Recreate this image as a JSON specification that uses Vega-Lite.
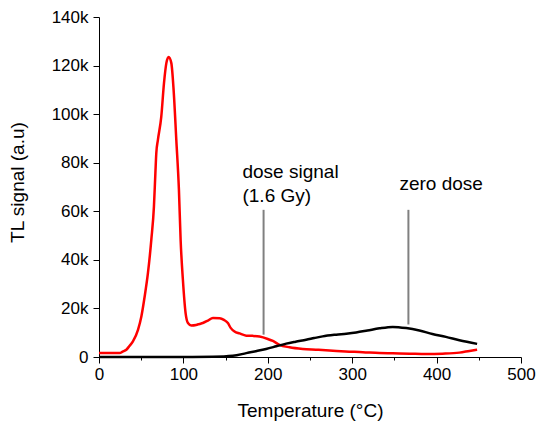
{
  "$schema": "https://vega.github.io/schema/vega-lite/v6.json",
  "autosize": "none",
  "width": 422,
  "height": 340,
  "padding": {"left": 99, "top": 17, "right": 17, "bottom": 69},
  "background": "white",
  "config": {
    "view": {"stroke": null},
    "font": "Liberation Sans",
    "axis": {
      "labelFont": "Liberation Sans",
      "titleFont": "Liberation Sans",
      "labelFontSize": 17,
      "titleFontSize": 19,
      "titleFontWeight": "normal",
      "labelColor": "black",
      "titleColor": "black",
      "domainColor": "black",
      "tickColor": "black",
      "grid": false,
      "labelOverlap": false,
      "labelFlush": false
    }
  },
  "datasets": {
    "curves": [
      {"series": "dose", "t": 0, "s": 1600},
      {"series": "dose", "t": 10, "s": 1600},
      {"series": "dose", "t": 20, "s": 1600},
      {"series": "dose", "t": 24.5, "s": 1600},
      {"series": "dose", "t": 28, "s": 2200},
      {"series": "dose", "t": 32.4, "s": 3000},
      {"series": "dose", "t": 36, "s": 4500},
      {"series": "dose", "t": 40.2, "s": 6400},
      {"series": "dose", "t": 46.2, "s": 11200},
      {"series": "dose", "t": 50.2, "s": 16700},
      {"series": "dose", "t": 54.1, "s": 24900},
      {"series": "dose", "t": 58, "s": 34600},
      {"series": "dose", "t": 62, "s": 48300},
      {"series": "dose", "t": 65.1, "s": 62000},
      {"series": "dose", "t": 66.8, "s": 75700},
      {"series": "dose", "t": 67.9, "s": 84000},
      {"series": "dose", "t": 69.8, "s": 89400},
      {"series": "dose", "t": 73.8, "s": 99000},
      {"series": "dose", "t": 77, "s": 112800},
      {"series": "dose", "t": 79.8, "s": 121000},
      {"series": "dose", "t": 82.5, "s": 123500},
      {"series": "dose", "t": 85.7, "s": 121000},
      {"series": "dose", "t": 88.4, "s": 110000},
      {"series": "dose", "t": 91.6, "s": 89400},
      {"series": "dose", "t": 94.7, "s": 68800},
      {"series": "dose", "t": 96.7, "s": 48300},
      {"series": "dose", "t": 99.4, "s": 31800},
      {"series": "dose", "t": 102.6, "s": 18100},
      {"series": "dose", "t": 105.4, "s": 14000},
      {"series": "dose", "t": 109.4, "s": 13000},
      {"series": "dose", "t": 115, "s": 13200},
      {"series": "dose", "t": 119, "s": 13600},
      {"series": "dose", "t": 123, "s": 14000},
      {"series": "dose", "t": 129, "s": 15000},
      {"series": "dose", "t": 135, "s": 16100},
      {"series": "dose", "t": 143, "s": 16000},
      {"series": "dose", "t": 148, "s": 15300},
      {"series": "dose", "t": 152.7, "s": 14000},
      {"series": "dose", "t": 156, "s": 12000},
      {"series": "dose", "t": 160.6, "s": 10500},
      {"series": "dose", "t": 166.5, "s": 9700},
      {"series": "dose", "t": 174.5, "s": 8800},
      {"series": "dose", "t": 182, "s": 8700},
      {"series": "dose", "t": 190.2, "s": 8400},
      {"series": "dose", "t": 200, "s": 7400},
      {"series": "dose", "t": 206, "s": 6600},
      {"series": "dose", "t": 213.9, "s": 5000},
      {"series": "dose", "t": 225.7, "s": 4000},
      {"series": "dose", "t": 241.5, "s": 3300},
      {"series": "dose", "t": 257, "s": 3000},
      {"series": "dose", "t": 273, "s": 2700},
      {"series": "dose", "t": 292, "s": 2300},
      {"series": "dose", "t": 312.5, "s": 2000},
      {"series": "dose", "t": 332.3, "s": 1600},
      {"series": "dose", "t": 348, "s": 1500},
      {"series": "dose", "t": 368, "s": 1350},
      {"series": "dose", "t": 387.5, "s": 1200},
      {"series": "dose", "t": 407, "s": 1350},
      {"series": "dose", "t": 427, "s": 1800},
      {"series": "dose", "t": 439, "s": 2500},
      {"series": "dose", "t": 448, "s": 3000},
      {"series": "zero", "t": 0, "s": 0},
      {"series": "zero", "t": 50, "s": 0},
      {"series": "zero", "t": 100, "s": 0},
      {"series": "zero", "t": 135, "s": 100},
      {"series": "zero", "t": 158.6, "s": 500},
      {"series": "zero", "t": 174.5, "s": 1600},
      {"series": "zero", "t": 186, "s": 2400},
      {"series": "zero", "t": 198, "s": 3300},
      {"series": "zero", "t": 210, "s": 4400},
      {"series": "zero", "t": 221.8, "s": 5500},
      {"series": "zero", "t": 233, "s": 6300},
      {"series": "zero", "t": 245.5, "s": 7100},
      {"series": "zero", "t": 255, "s": 7800},
      {"series": "zero", "t": 265, "s": 8500},
      {"series": "zero", "t": 281, "s": 9200},
      {"series": "zero", "t": 293, "s": 9600},
      {"series": "zero", "t": 304.7, "s": 10100},
      {"series": "zero", "t": 318, "s": 10900},
      {"series": "zero", "t": 332.3, "s": 11800},
      {"series": "zero", "t": 348, "s": 12400},
      {"series": "zero", "t": 364, "s": 11900},
      {"series": "zero", "t": 379.6, "s": 10900},
      {"series": "zero", "t": 395, "s": 9500},
      {"series": "zero", "t": 411, "s": 8300},
      {"series": "zero", "t": 427, "s": 6900},
      {"series": "zero", "t": 448, "s": 5400}
    ],
    "pointers": [
      {"t": 195, "top": 60600, "bottom": 9200},
      {"t": 366.6, "top": 60600, "bottom": 13400}
    ],
    "labels": [
      {"t": 170, "s": 73800, "text": "dose signal"},
      {"t": 170, "s": 63900, "text": "(1.6 Gy)"},
      {"t": 356, "s": 68800, "text": "zero dose"}
    ]
  },
  "layer": [
    {
      "data": {"name": "curves"},
      "mark": {"type": "line", "strokeWidth": 2.5, "interpolate": "monotone"},
      "encoding": {
        "x": {
          "field": "t",
          "type": "quantitative",
          "scale": {"domain": [0, 500], "nice": false, "zero": false},
          "axis": {
            "title": "Temperature (°C)",
            "values": [0, 50, 100, 150, 200, 250, 300, 350, 400, 450, 500],
            "labelExpr": "datum.value % 100 === 0 ? datum.label : ''",
            "tickSize": {"condition": {"test": "datum.value % 100 === 0", "value": 6}, "value": 3},
            "labelPadding": 3,
            "titleY": 59,
            "titleBaseline": "alphabetic"
          }
        },
        "y": {
          "field": "s",
          "type": "quantitative",
          "scale": {"domain": [0, 140000], "nice": false},
          "axis": {
            "title": "TL signal (a.u)",
            "values": [0, 10000, 20000, 30000, 40000, 50000, 60000, 70000, 80000, 90000, 100000, 110000, 120000, 130000, 140000],
            "labelExpr": "datum.value === 0 ? '0' : (datum.value % 20000 === 0 ? (datum.value / 1000) + 'k' : '')",
            "tickSize": {"condition": {"test": "datum.value % 20000 === 0", "value": 6}, "value": 3},
            "labelPadding": 5,
            "titleX": -76,
            "titleY": 165,
            "titleAngle": 270,
            "titleBaseline": "alphabetic"
          }
        },
        "color": {
          "field": "series",
          "type": "nominal",
          "scale": {"domain": ["dose", "zero"], "range": ["#ff0000", "#000000"]},
          "legend": null
        }
      }
    },
    {
      "data": {"name": "pointers"},
      "mark": {"type": "rule", "color": "#808080", "strokeWidth": 2},
      "encoding": {
        "x": {"field": "t", "type": "quantitative"},
        "y": {"field": "top", "type": "quantitative"},
        "y2": {"field": "bottom"}
      }
    },
    {
      "data": {"name": "labels"},
      "mark": {"type": "text", "align": "left", "baseline": "alphabetic", "fontSize": 19, "font": "Liberation Sans", "color": "black"},
      "encoding": {
        "x": {"field": "t", "type": "quantitative"},
        "y": {"field": "s", "type": "quantitative"},
        "text": {"field": "text"}
      }
    }
  ]
}
